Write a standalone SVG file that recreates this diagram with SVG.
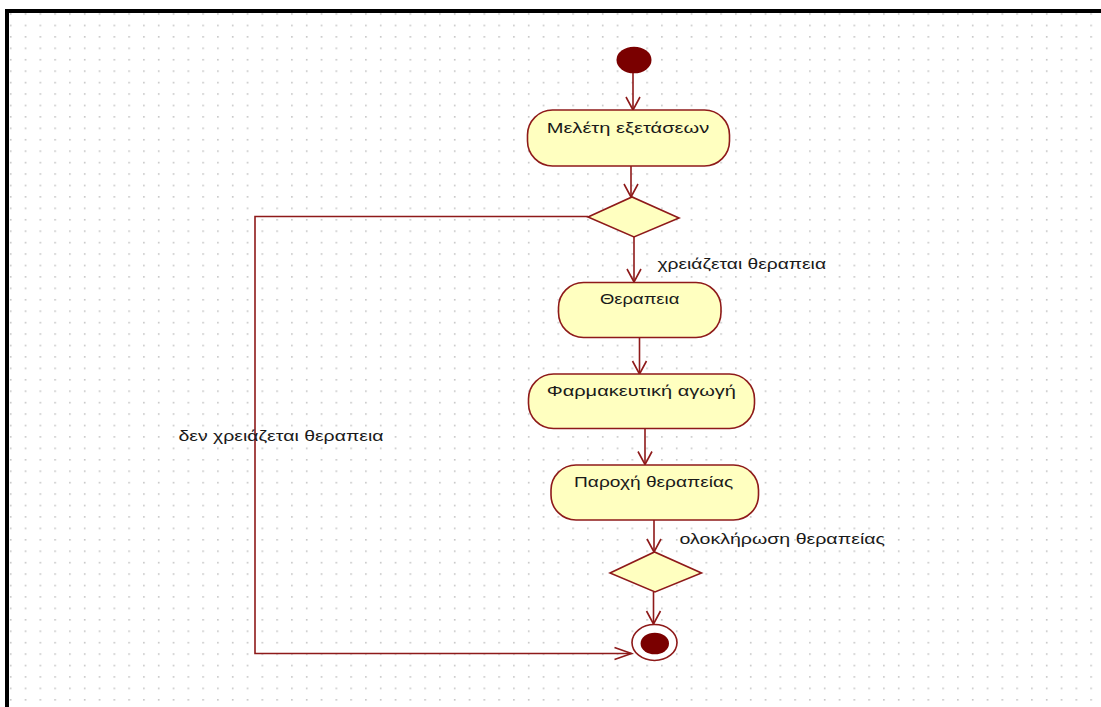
<svg xmlns="http://www.w3.org/2000/svg" width="1101" height="707" viewBox="0 0 1101 707">
  <style>
    .action { fill: #ffffc0; stroke: #8e1a1a; stroke-width: 1.6; }
    .decision { fill: #ffffc0; stroke: #8e1a1a; stroke-width: 1.6; }
    .flow { fill: none; stroke: #8e1a1a; stroke-width: 1.6; }
    .label { font-family: "Liberation Sans", Arial, sans-serif; font-size: 15px; fill: #1a1a1a; }
    .solid { fill: #7a0000; }
  </style>
  <defs>
    <pattern id="grid" patternUnits="userSpaceOnUse" x="9.9" y="13.2" width="14.8" height="11.43">
      <rect x="0" y="0" width="1.6" height="1.6" fill="#c4c4c4"/>
    </pattern>
    <marker id="arrow-v" markerUnits="userSpaceOnUse" viewBox="-15 -9 17 18" refX="0" refY="0" markerWidth="17" markerHeight="18" orient="auto" overflow="visible">
      <path d="M-13,-7 L0,0 L-13,7" fill="none" stroke="#8e1a1a" stroke-width="1.6"/>
    </marker>
    <marker id="arrow-h" markerUnits="userSpaceOnUse" viewBox="-19 -8 21 16" refX="0" refY="0" markerWidth="21" markerHeight="16" orient="auto" overflow="visible">
      <path d="M-17,-6 L0,0 L-17,6" fill="none" stroke="#8e1a1a" stroke-width="1.6"/>
    </marker>
  </defs>

  <!-- canvas -->
  <rect x="0" y="0" width="1101" height="707" fill="#ffffff"/>
  <rect x="9" y="12.7" width="1092" height="694.3" fill="url(#grid)"/>
  <path d="M7,707 L7,11 L1101,11" fill="none" stroke="#000000" stroke-width="4"/>

  <!-- control flows -->
  <g id="connectors">
    <line class="flow" x1="633" y1="73" x2="633" y2="110" marker-end="url(#arrow-v)"/>
    <line class="flow" x1="631" y1="166" x2="631" y2="197" marker-end="url(#arrow-v)"/>
    <line class="flow" x1="634" y1="237" x2="634" y2="282" marker-end="url(#arrow-v)"/>
    <line class="flow" x1="639.5" y1="337" x2="639.5" y2="374" marker-end="url(#arrow-v)"/>
    <line class="flow" x1="645" y1="428" x2="645" y2="464.5" marker-end="url(#arrow-v)"/>
    <line class="flow" x1="654" y1="520" x2="654" y2="552" marker-end="url(#arrow-v)"/>
    <line class="flow" x1="653.5" y1="592" x2="653.5" y2="624" marker-end="url(#arrow-v)"/>
    <polyline class="flow" points="588,216.5 255,216.5 255,653.5 631.5,653.5" marker-end="url(#arrow-h)"/>
    <text class="label" x="657.5" y="268.5" textLength="168.5" lengthAdjust="spacingAndGlyphs">χρειάζεται θεραπεια</text>
    <text class="label" x="178.5" y="441" textLength="205" lengthAdjust="spacingAndGlyphs">δεν χρειάζεται θεραπεια</text>
    <text class="label" x="679.5" y="544" textLength="205.5" lengthAdjust="spacingAndGlyphs">ολοκλήρωση θεραπείας</text>
  </g>

  <g id="start">
    <ellipse class="solid" cx="634" cy="60" rx="17.5" ry="13.3"/>
  </g>

  <g id="meleti-exetaseon">
    <rect class="action" x="527.5" y="110" width="202" height="56" rx="25" ry="25"/>
    <text class="label" x="546.7" y="133.3" textLength="162.6" lengthAdjust="spacingAndGlyphs">Μελέτη εξετάσεων</text>
  </g>

  <g id="decision-therapy">
    <polygon class="decision" points="588,217 632,197 679,218 634,237"/>
  </g>

  <g id="therapeia">
    <rect class="action" x="558.5" y="282.5" width="162.5" height="55" rx="25" ry="25"/>
    <text class="label" x="600" y="304" textLength="79.3" lengthAdjust="spacingAndGlyphs">Θεραπεια</text>
  </g>

  <g id="farmakeftiki-agogi">
    <rect class="action" x="528.5" y="374" width="226" height="54.5" rx="25" ry="25"/>
    <text class="label" x="546.7" y="396" textLength="189.3" lengthAdjust="spacingAndGlyphs">Φαρμακευτική αγωγή</text>
  </g>

  <g id="paroxi-therapeias">
    <rect class="action" x="551" y="465" width="207.5" height="55" rx="25" ry="25"/>
    <text class="label" x="574" y="486.7" textLength="159.3" lengthAdjust="spacingAndGlyphs">Παροχή θεραπείας</text>
  </g>

  <g id="decision-end">
    <polygon class="decision" points="610,573 654.5,552 701.5,573 655,592"/>
  </g>

  <g id="final">
    <ellipse cx="654.5" cy="642.5" rx="22.5" ry="18" fill="#ffffff" stroke="#8e1a1a" stroke-width="1.6"/>
    <ellipse class="solid" cx="654.8" cy="643.5" rx="14.2" ry="10.8"/>
  </g>
</svg>
